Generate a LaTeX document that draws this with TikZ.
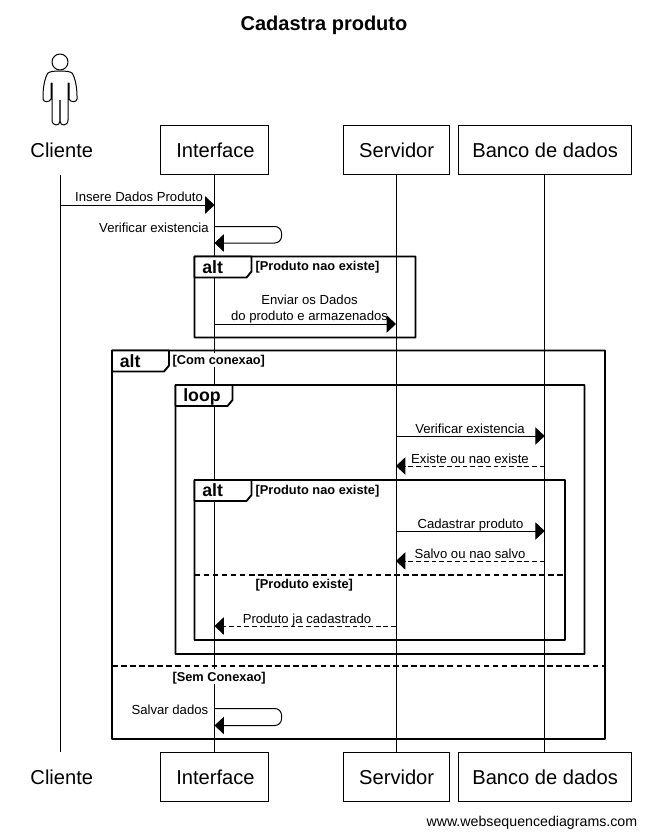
\documentclass[tikz,border=0pt]{standalone}
\usepackage{fontspec}
\setmainfont{Liberation Sans}
\usetikzlibrary{arrows.meta}
\tikzset{
  x=0.75pt,y=-0.75pt,
  part/.style={draw=black,line width=0.75pt,fill=white,minimum height=36.75pt,inner sep=0pt,text height=15pt,text depth=4pt,font=\fontsize{15.1}{18}\selectfont,anchor=center},
  plain part/.style={inner sep=0pt,text height=15pt,text depth=4pt,font=\fontsize{15.1}{18}\selectfont},
  life/.style={line width=0.75pt},
  msg/.style={line width=0.75pt,-{Triangle[length=7pt,width=13pt]},shorten >=0pt},
  reply/.style={msg,dash pattern=on 3.6pt off 2.2pt},
  msglabel/.style={inner sep=0pt,text height=9pt,text depth=2pt,font=\fontsize{9.85}{11.8}\selectfont,align=center},
  framebox/.style={draw=black,line width=1.4pt,rounded corners=0.4pt},
  framesep/.style={draw=black,line width=1.4pt,dash pattern=on 4.2pt off 2.6pt},
  tab/.style={draw=black,line width=1.4pt,fill=white,line join=round},
  tabtext/.style={inner sep=0pt,anchor=west,text height=12pt,text depth=3pt,font=\bfseries\fontsize{13.3}{15}\selectfont},
  guard/.style={inner sep=0.6pt,anchor=west,fill=white,text height=8.2pt,text depth=1.2pt,font=\bfseries\fontsize{9.6}{11}\selectfont},
  actor/.style={draw=black,line width=0.75pt,line join=round},
}
\newcommand{\sdframe}[7]{% name,x0,y0,x1,y1,tab label,tab width
  \draw[framebox] (#2,#3) rectangle (#4,#5);
  \draw[tab] (#2,#3) -- ++(#7,0) -- ++(0,15) -- ++(-5,6) -- (#2,#3+21) -- cycle;
  \node[tabtext] (#1) at (#2+7.5,#3+10.5) {#6};
}
\begin{document}
\begin{tikzpicture}
\useasboundingbox (0,0) rectangle (646,836);
\fill[white] (0,0) rectangle (646,836);

\node[inner sep=0pt,text height=11pt,text depth=0pt,font=\bfseries\fontsize{15}{18}\selectfont] (title) at (324,23.5) {Cadastra produto};

% participants, top
\node[plain part] (cliT) at (61.8,150) {Cliente};
\node[part,minimum width=81pt] (ifT) at (214.5,150) {\hspace*{1.5pt}Interface};
\node[part,minimum width=79.5pt] (svT) at (396,150) {\hspace*{1pt}Servidor};
\node[part,minimum width=130pt] (dbT) at (544.7,150) {\hspace*{0.6pt}Banco de dados};
% participants, bottom
\node[plain part] (cliB) at (61.8,777) {Cliente};
\node[part,minimum width=81pt] (ifB) at (214.5,777) {\hspace*{1.5pt}Interface};
\node[part,minimum width=79.5pt] (svB) at (396,777) {\hspace*{1pt}Servidor};
\node[part,minimum width=130pt] (dbB) at (544.7,777) {\hspace*{0.6pt}Banco de dados};

% lifelines
\coordinate (cliTop) at (60,175);
\coordinate (cliEnd) at (60,752);
\draw[life] (cliTop) -- (cliEnd);
\draw[life] (ifT.south) -- (ifB.north);
\draw[life] (svT.south) -- (svB.north);
\draw[life] (dbT.south) -- (dbB.north);

% actor
\draw[actor] (60,62) circle (8);
\draw[actor] (60,71) .. controls (54,71) and (50,71.5) .. (48,73)
  .. controls (45.5,76) and (43,86) .. (43,96) -- (43,99)
  .. controls (43,102.5) and (50,102.5) .. (51,99)
  -- (51,83) -- (52,83) -- (52,120)
  .. controls (52,126.5) and (60,126.5) .. (60,121)
  .. controls (60,126.5) and (68,126.5) .. (68,120)
  -- (68,83) -- (69,83) -- (69,99)
  .. controls (70,102.5) and (77,102.5) .. (77,99) -- (77,96)
  .. controls (77,86) and (74.5,76) .. (72,73)
  .. controls (70,71.5) and (66,71) .. (60,71);
\draw[draw=black!70,line width=1.4pt] (60,100) -- (60,121);

% frames
\sdframe{altA}{194.5}{256.5}{415.5}{337.5}{alt}{57}
\sdframe{altB}{112}{350.5}{605}{739}{alt}{57}
\sdframe{loopA}{175.5}{385}{584.5}{654}{loop}{57}
\sdframe{altC}{194.5}{480}{565}{640}{alt}{57}
\coordinate (sepCa) at (194.5,575); \coordinate (sepCb) at (565,575);
\coordinate (sepBa) at (112,666); \coordinate (sepBb) at (605,666);
\draw[framesep] (sepCa) -- (sepCb);
\draw[framesep] (sepBa) -- (sepBb);

\node[guard] (gA) at (254.5,266) {[Produto nao existe]};
\node[guard] (gB) at (171.5,360) {[Com conexao]};
\node[guard] (gC) at (254.5,489.5) {[Produto nao existe]};
\node[guard] (gC2) at (254.5,584) {[Produto existe]};
\node[guard] (gB2) at (171.5,676.5) {[Sem Conexao]};

% message end points on the lifelines
\coordinate (m1a) at (cliTop |- 0,205);   \coordinate (m1b) at (ifT.south |- 0,205);
\coordinate (m2a) at (ifT.south |- 0,226.5); \coordinate (m2b) at (ifT.south |- 0,243);
\coordinate (m3a) at (ifT.south |- 0,324);  \coordinate (m3b) at (svT.south |- 0,324);
\coordinate (m4a) at (svT.south |- 0,436);  \coordinate (m4b) at (dbT.south |- 0,436);
\coordinate (m5a) at (dbT.south |- 0,466);  \coordinate (m5b) at (svT.south |- 0,466);
\coordinate (m6a) at (svT.south |- 0,531);  \coordinate (m6b) at (dbT.south |- 0,531);
\coordinate (m7a) at (dbT.south |- 0,561);  \coordinate (m7b) at (svT.south |- 0,561);
\coordinate (m8a) at (svT.south |- 0,626);  \coordinate (m8b) at (ifT.south |- 0,626);
\coordinate (m9a) at (ifT.south |- 0,708.5); \coordinate (m9b) at (ifT.south |- 0,725.5);

\draw[msg] (m1a) -- (m1b);
\draw[msg,rounded corners=5pt] (m2a) -- (281.5,226.5) -- (281.5,243) -- (m2b);
\draw[msg] (m3a) -- (m3b);
\draw[msg] (m4a) -- (m4b);
\draw[reply] (m5a) -- (m5b);
\draw[msg] (m6a) -- (m6b);
\draw[reply] (m7a) -- (m7b);
\draw[reply] (m8a) -- (m8b);
\draw[msg,rounded corners=5pt] (m9a) -- (281.5,708.5) -- (281.5,725.5) -- (m9b);

% message labels
\node[msglabel] (l1) at (139,197) {Insere Dados Produto};
\node[msglabel,anchor=east] (l2) at (209,227.5) {Verificar existencia};
\node[msglabel] (l3) at (309.5,316) {Enviar os Dados\\do produto e armazenados};
\node[msglabel] (l4) at (470,428.5) {Verificar existencia};
\node[msglabel] (l5) at (470,458.5) {Existe ou nao existe};
\node[msglabel] (l6) at (470.5,523.5) {Cadastrar produto};
\node[msglabel] (l7) at (470,553.5) {Salvo ou nao salvo};
\node[msglabel] (l8) at (307,618.5) {Produto ja cadastrado};
\node[msglabel,anchor=east] (l9) at (208.5,709.5) {Salvar dados};

\node[inner sep=0pt,anchor=east,text height=8pt,text depth=0pt,font=\fontsize{10.65}{13}\selectfont] (wsd) at (637.5,821) {www.websequencediagrams.com};
\end{tikzpicture}
\end{document}
